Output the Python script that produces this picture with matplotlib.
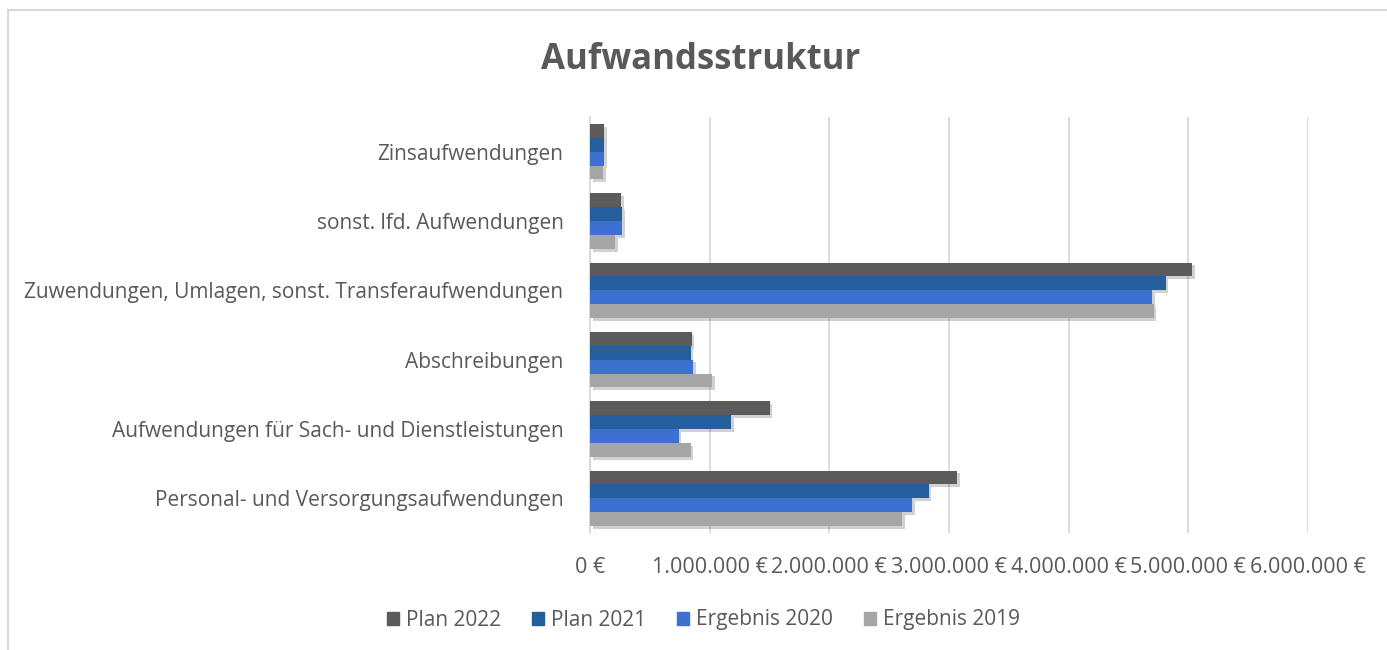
import matplotlib
matplotlib.use("Agg")
import matplotlib.pyplot as plt
import matplotlib.patheffects as pe
from matplotlib.patches import Rectangle
from matplotlib.ticker import FuncFormatter
import numpy as np

categories = [
    "Personal- und Versorgungsaufwendungen",
    "Aufwendungen für Sach- und Dienstleistungen",
    "Abschreibungen",
    "Zuwendungen, Umlagen, sonst. Transferaufwendungen",
    "sonst. lfd. Aufwendungen",
    "Zinsaufwendungen",
]
series_names = ["Plan 2022", "Plan 2021", "Ergebnis 2020", "Ergebnis 2019"]
plan_2022 = [3070000, 1500000, 850000, 5030000, 260000, 120000]
plan_2021 = [2830000, 1180000, 840000, 4810000, 270000, 120000]
ergebnis_2020 = [2690000, 740000, 860000, 4700000, 270000, 120000]
ergebnis_2019 = [2610000, 840000, 1020000, 4710000, 210000, 110000]
x_ticks = [0, 1000000, 2000000, 3000000, 4000000, 5000000, 6000000]

colors = ["#5b5b5b", "#245e9b", "#3e70d0", "#a5a5a5"]
text_color = "#595959"

plt.rcParams['font.family'] = ['Open Sans', 'DejaVu Sans']

fig = plt.figure(figsize=(13.87, 6.5), dpi=100)
ax = fig.add_axes([590/1387, 1-533/650, (1308-590)/1387, (533-117)/650])

y = np.arange(len(categories))
bar_h = 0.2
offsets = [0.3, 0.1, -0.1, -0.3]
all_series = [plan_2022, plan_2021, ergebnis_2020, ergebnis_2019]
for vals, off, col, name in zip(all_series, offsets, colors, series_names):
    bars = ax.barh(y + off, vals, height=bar_h, color=col, label=name, zorder=3)
    for b in bars:
        b.set_path_effects([pe.SimplePatchShadow(offset=(2, -2), shadow_rgbFace="#000000", alpha=0.18), pe.Normal()])

ax.set_xlim(0, 6000000)
ax.set_ylim(-0.5, len(categories) - 0.5)
ax.set_xticks(x_ticks)
ax.xaxis.set_major_formatter(FuncFormatter(lambda v, p: (f"{int(v):,}".replace(",", ".") + " €")))
ax.set_yticks(y)
ax.set_yticklabels(categories)
ax.grid(axis='x', color='#d9d9d9', linewidth=1.3, zorder=0)
ax.set_axisbelow(True)
for s in ['top', 'right', 'bottom']:
    ax.spines[s].set_visible(False)
ax.spines['left'].set_color('#d9d9d9')
ax.spines['left'].set_linewidth(1.3)
ax.tick_params(axis='y', length=0, colors=text_color, labelsize=15, pad=19)
ax.tick_params(axis='x', length=0, colors=text_color, labelsize=15.5, pad=17)

fig.text(0.505, 0.907, "Aufwandsstruktur", ha='center', va='center', fontsize=25,
         fontweight='bold', color=text_color)

handles = [plt.Rectangle((0, 0), 1, 1, color=c) for c in colors]
leg = fig.legend(handles, series_names, loc='center', bbox_to_anchor=(0.507, 1-620/650), ncol=4,
                 frameon=False, fontsize=15, handlelength=0.6, handleheight=0.6,
                 handletextpad=0.3, columnspacing=1.5, labelcolor=text_color)

fig.patches.append(Rectangle((8/1387, -0.1), 1.2, 1 - 10/650 + 0.1, transform=fig.transFigure,
                             fill=False, edgecolor='#d9d9d9', linewidth=1.5))

fig.savefig("out.png", dpi=100, facecolor='white')
